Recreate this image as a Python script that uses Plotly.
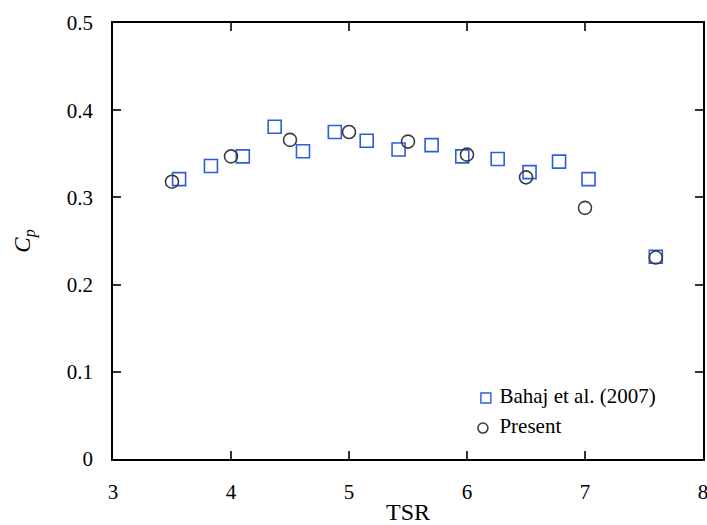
import plotly.graph_objects as go

# Power coefficient vs tip speed ratio
bahaj_tsr = [3.56, 3.83, 4.10, 4.37, 4.61, 4.88, 5.15, 5.42, 5.70, 5.96, 6.26, 6.53, 6.78, 7.03, 7.60]
bahaj_cp = [0.321, 0.336, 0.347, 0.381, 0.353, 0.375, 0.365, 0.355, 0.360, 0.347, 0.344, 0.329, 0.341, 0.321, 0.232]

present_tsr = [3.5, 4.0, 4.5, 5.0, 5.5, 6.0, 6.5, 7.0, 7.6]
present_cp = [0.318, 0.347, 0.366, 0.375, 0.364, 0.349, 0.323, 0.288, 0.231]

x_ticks = [3, 4, 5, 6, 7, 8]
y_ticks = [0, 0.1, 0.2, 0.3, 0.4, 0.5]

BLUE = "#2b5de0"
GREY = "#3c3c3c"
FONT = "Liberation Serif"

fig = go.Figure()
fig.add_trace(go.Scatter(
    x=bahaj_tsr, y=bahaj_cp, mode="markers", name="Bahaj et al. (2007)",
    marker=dict(symbol="square-open", size=13, color=BLUE, line=dict(width=1.6, color=BLUE)),
    showlegend=False,
))
fig.add_trace(go.Scatter(
    x=present_tsr, y=present_cp, mode="markers", name="Present",
    marker=dict(symbol="circle-open", size=13, color=GREY, line=dict(width=1.6, color=GREY)),
    showlegend=False,
))

# Legend key: symbols and labels on an overlay axis spanning the plot area (0..1)
fig.add_trace(go.Scatter(
    x=[0.632], y=[0.140], mode="markers", xaxis="x2", yaxis="y2", showlegend=False,
    hoverinfo="skip",
    marker=dict(symbol="square-open", size=10, color=BLUE, line=dict(width=1.4, color=BLUE)),
))
fig.add_trace(go.Scatter(
    x=[0.627], y=[0.071], mode="markers", xaxis="x2", yaxis="y2", showlegend=False,
    hoverinfo="skip",
    marker=dict(symbol="circle-open", size=10, color=GREY, line=dict(width=1.6, color=GREY)),
))
fig.add_trace(go.Scatter(
    x=[0.655, 0.655], y=[0.140, 0.071], mode="text", xaxis="x2", yaxis="y2", showlegend=False,
    hoverinfo="skip", text=["Bahaj et al. (2007)", "Present"], textposition="middle right",
    textfont=dict(family=FONT, size=21, color="black"),
))

axis_common = dict(
    showline=True, linecolor="black", linewidth=1.5, mirror="ticks",
    ticks="inside", ticklen=8, tickwidth=1.5, tickcolor="#333",
    showgrid=False, zeroline=False, automargin=False,
    ticklabeloverflow="allow",
    tickfont=dict(family=FONT, size=21, color="black"),
)

fig.update_layout(
    width=707, height=525,
    margin=dict(l=113, r=4, t=23, b=66),
    paper_bgcolor="white", plot_bgcolor="white",
    font=dict(family=FONT, color="black"),
    xaxis=dict(range=[3, 8], tickvals=x_ticks, ticklabelstandoff=13,
               title=dict(text="TSR", font=dict(family=FONT, size=24, color="black"), standoff=6),
               **axis_common),
    yaxis=dict(range=[0, 0.5], tickvals=y_ticks, ticklabelstandoff=14,
               title=dict(text="<i>C</i><sub><i>p</i></sub>", font=dict(family=FONT, size=23, color="black"), standoff=30),
               **axis_common),
    xaxis2=dict(overlaying="x", range=[0, 1], visible=False, fixedrange=True),
    yaxis2=dict(overlaying="y", range=[0, 1], visible=False, fixedrange=True),
)

fig.write_html("out.html")
